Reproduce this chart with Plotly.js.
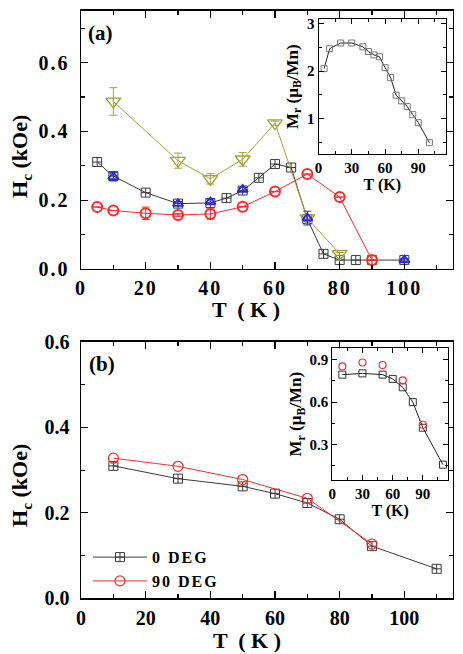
<!DOCTYPE html>
<html>
<head>
<meta charset="utf-8">
<script src="https://cdn.plot.ly/plotly-3.0.1.min.js"></script>
<style>
    body { margin: 0; background: #fff; }
    #plot { width: 463px; height: 654px; }
    /* wide spacing on the main tick labels and legend text */
    .subplot.xy .xtick text, .subplot.xy .ytick text,
    .subplot.x2y2 .xtick text, .subplot.x2y2 .ytick text { letter-spacing: 2px; }
    .legendtext { letter-spacing: 2px; }
</style>
</head>
<body>
<div id="plot"></div>
<script>
// ---- panel (a): Hc vs T ----
const tBlackA = [5, 10, 20, 30, 40, 45, 50, 55, 60, 65, 70, 75, 80, 85, 90, 100];
const hcBlackA = [0.311, 0.27, 0.222, 0.19, 0.192, 0.206, 0.228, 0.265, 0.305, 0.295, 0.145, 0.044, 0.026, 0.026, 0.026, 0.026];

const tOliveA = [10, 30, 40, 50, 60, 70, 80];
const hcOliveA = [0.487, 0.315, 0.262, 0.319, 0.424, 0.148, 0.044];
const errOliveA = [0.04, 0.022, 0.015, 0.02, 0.006, 0.01, 0.004];

const tRedA = [5, 10, 20, 30, 40, 50, 60, 70, 80, 90];
const hcRedA = [0.18, 0.17, 0.162, 0.157, 0.16, 0.181, 0.225, 0.276, 0.209, 0.026];
const errRedA = [0, 0, 0.018, 0.004, 0.015, 0, 0, 0, 0, 0];

const tBlueA = [10, 30, 40, 50, 70, 100];
const hcBlueA = [0.268, 0.19, 0.195, 0.231, 0.148, 0.026];
const errBlueA = [0.012, 0.006, 0.008, 0.006, 0.02, 0.005];

// inset (a): Mr vs T
const tInsetA = [5, 10, 20, 30, 40, 45, 50, 55, 60, 65, 70, 75, 80, 85, 90, 100];
const mrInsetA = [2.05, 2.47, 2.59, 2.59, 2.51, 2.41, 2.34, 2.3, 2.07, 1.86, 1.49, 1.37, 1.25, 1.08, 0.91, 0.49];

// ---- panel (b): Hc vs T, two field angles ----
const tDeg0 = [10, 30, 50, 60, 70, 80, 90, 110];
const hcDeg0 = [0.31, 0.28, 0.262, 0.245, 0.223, 0.185, 0.122, 0.069];
const tDeg90 = [10, 30, 50, 70, 90];
const hcDeg90 = [0.328, 0.309, 0.278, 0.234, 0.127];

// inset (b): Mr vs T
const tInsetB0 = [10, 30, 50, 60, 70, 80, 90, 110];
const mrInsetB0 = [0.794, 0.803, 0.794, 0.764, 0.705, 0.6, 0.419, 0.158];
const tInsetB90 = [10, 30, 50, 70, 90];
const mrInsetB90 = [0.852, 0.88, 0.862, 0.754, 0.44];

const serif = 'Liberation Serif, Times New Roman, serif';
const black = '#3a3a3a';
const red = '#ff2a2a';
const blue = '#2828e0';
const olive = '#a2a23a';

function errBars(arr, color) {
    return { type: 'data', array: arr, visible: true, color: color, thickness: 1, width: 4 };
}

const data = [
    { x: tBlackA, y: hcBlackA, xaxis: 'x', yaxis: 'y', mode: 'lines+markers', showlegend: false,
      line: { color: black, width: 1 },
      marker: { symbol: 'square-cross-open', size: 9, color: black, line: { width: 1 } } },
    { x: tOliveA, y: hcOliveA, xaxis: 'x', yaxis: 'y', mode: 'lines+markers', showlegend: false,
      line: { color: olive, width: 1 }, error_y: errBars(errOliveA, olive),
      marker: { symbol: 'triangle-down-open', size: 13, color: olive, line: { width: 1.3 } } },
    { x: tRedA, y: hcRedA, xaxis: 'x', yaxis: 'y', mode: 'lines+markers', showlegend: false,
      line: { color: red, width: 1 }, error_y: errBars(errRedA, red),
      marker: { symbol: 'circle-open', size: 10, color: red, line: { width: 2 } } },
    { x: tBlueA, y: hcBlueA, xaxis: 'x', yaxis: 'y', mode: 'markers', showlegend: false,
      error_y: errBars(errBlueA, blue),
      marker: { symbol: 'triangle-up-open', size: 9, color: blue, line: { width: 1.8 } } },

    { x: tInsetA, y: mrInsetA, xaxis: 'x3', yaxis: 'y3', mode: 'lines+markers', showlegend: false,
      line: { color: '#222', width: 1 },
      marker: { symbol: 'square-open', size: 6, color: '#777', line: { width: 1 } } },

    { x: tDeg0, y: hcDeg0, xaxis: 'x2', yaxis: 'y2', mode: 'lines+markers', name: '0 DEG',
      line: { color: black, width: 1 },
      marker: { symbol: 'square-cross-open', size: 9, color: black, line: { width: 1 } } },
    { x: tDeg90, y: hcDeg90, xaxis: 'x2', yaxis: 'y2', mode: 'lines+markers', name: '90 DEG',
      line: { color: red, width: 1 },
      marker: { symbol: 'circle-open', size: 10, color: red, line: { width: 1.2 } } },

    { x: tInsetB0, y: mrInsetB0, xaxis: 'x4', yaxis: 'y4', mode: 'lines+markers', showlegend: false,
      line: { color: '#222', width: 1 },
      marker: { symbol: 'square-open', size: 7, color: '#333', line: { width: 1 } } },
    { x: tInsetB90, y: mrInsetB90, xaxis: 'x4', yaxis: 'y4', mode: 'markers', showlegend: false,
      marker: { symbol: 'circle-open', size: 7, color: red, line: { width: 1.2 } } }
];

function axis(extra) {
    return Object.assign({
        showline: true, linecolor: '#000', linewidth: 1.5, mirror: 'ticks',
        ticks: 'inside', ticklen: 7, tickwidth: 1.3, tickcolor: '#000',
        showgrid: false, zeroline: false, fixedrange: true,
        tickfont: { family: serif, size: 20, weight: 'bold', color: '#000' },
        minor: { ticks: 'inside', ticklen: 4, tickwidth: 1.2, tickcolor: '#000', showgrid: false }
    }, extra);
}

function insetAxis(extra) {
    return axis(Object.assign({
        linewidth: 1, ticklen: 5, tickwidth: 1,
        tickfont: { family: serif, size: 15, weight: 'bold', color: '#000' },
        minor: { ticks: 'inside', ticklen: 3, tickwidth: 1, tickcolor: '#000', showgrid: false }
    }, extra));
}

const bold = (size) => ({ family: serif, size: size, weight: 'bold', color: '#000' });

function label(text, x, y, size, angle) {
    return { text: text, x: x, y: y, xref: 'paper', yref: 'paper', xanchor: 'center', yanchor: 'middle',
             showarrow: false, textangle: angle || 0, font: bold(size) };
}

const layout = {
    width: 463, height: 654,
    margin: { l: 0, r: 0, t: 0, b: 0 },
    paper_bgcolor: '#fff', plot_bgcolor: '#fff',
    font: { family: serif, color: '#000' },

    xaxis: axis({ domain: [0.175, 0.978], anchor: 'y', range: [0, 115], tick0: 0, dtick: 20,
                  minor: { ticks: 'inside', ticklen: 4, tickwidth: 1.2, tickcolor: '#000', dtick: 10 },
                  ticklabelstandoff: 1 }),
    yaxis: axis({ domain: [0.5887, 0.9832], anchor: 'x', range: [0, 0.75], tick0: 0, dtick: 0.2,
                  tickformat: '.1f', ticklabelstandoff: 6,
                  minor: { ticks: 'inside', ticklen: 4, tickwidth: 1.2, tickcolor: '#000', dtick: 0.1 } }),

    xaxis2: axis({ domain: [0.175, 0.978], anchor: 'y2', range: [0, 115], tick0: 0, dtick: 20,
                   minor: { ticks: 'inside', ticklen: 4, tickwidth: 1.2, tickcolor: '#000', dtick: 10 },
                   ticklabelstandoff: 1 }),
    yaxis2: axis({ domain: [0.0852, 0.4771], anchor: 'x2', range: [0, 0.6], tick0: 0, dtick: 0.2,
                   tickformat: '.1f', ticklabelstandoff: 6,
                   minor: { ticks: 'inside', ticklen: 4, tickwidth: 1.2, tickcolor: '#000', dtick: 0.1 } }),

    xaxis3: insetAxis({ domain: [0.688, 0.9633], anchor: 'y3', range: [0, 115], tick0: 0, dtick: 30,
                        minor: { ticks: 'inside', ticklen: 3, tickwidth: 1, tickcolor: '#000', dtick: 15 },
                        title: { text: 'T (K)', font: bold(16), standoff: 2 } }),
    yaxis3: insetAxis({ domain: [0.7645, 0.9705], anchor: 'x3', range: [0.25, 3.09], tick0: 0, dtick: 1,
                        minor: { ticks: 'inside', ticklen: 3, tickwidth: 1, tickcolor: '#000', dtick: 0.5 },
                        title: { text: 'M<sub>r</sub> (μ<sub>B</sub>/Mn)', font: bold(17), standoff: 4 } }),

    xaxis4: insetAxis({ domain: [0.7177, 0.9676], anchor: 'y4', range: [0, 115], tick0: 0, dtick: 30,
                        minor: { ticks: 'inside', ticklen: 3, tickwidth: 1, tickcolor: '#000', dtick: 15 },
                        title: { text: 'T (K)', font: bold(16), standoff: 2 } }),
    yaxis4: insetAxis({ domain: [0.2661, 0.4674], anchor: 'x4', range: [0.05, 0.98], tick0: 0, dtick: 0.3,
                        tickformat: '.1f',
                        minor: { ticks: 'inside', ticklen: 3, tickwidth: 1, tickcolor: '#000', dtick: 0.15 },
                        title: { text: 'M<sub>r</sub> (μ<sub>B</sub>/Mn)', font: bold(17), standoff: 3 } }),

    showlegend: true,
    legend: { x: 0.19, y: 0.174, xanchor: 'left', yanchor: 'top', bgcolor: 'rgba(0,0,0,0)',
              font: bold(16), itemwidth: 54, tracegroupgap: 0 },

    annotations: [
        label('(a)', 0.217, 0.9495, 21),
        label('(b)', 0.2203, 0.4434, 21),
        label('T  ( K )', 0.5313, 0.526, 22),
        label('T  ( K )', 0.5335, 0.0199, 22),
        label('H<sub>c</sub> (kOe)', 0.0454, 0.76, 22, -90),
        label('H<sub>c</sub> (kOe)', 0.0454, 0.257, 22, -90)
    ]
};

Plotly.newPlot('plot', data, layout, { displayModeBar: false, staticPlot: true });
</script>
</body>
</html>
